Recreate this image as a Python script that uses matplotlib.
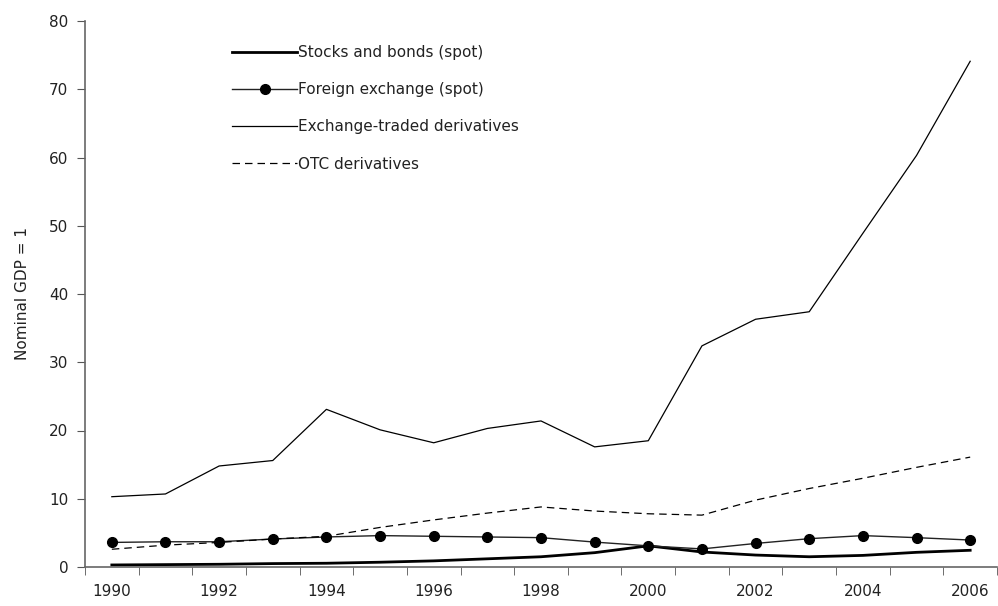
import matplotlib
matplotlib.use("Agg")
import matplotlib.pyplot as plt
import numpy as np

years = list(range(1990, 2007))
stocks_bonds = [0.3, 0.35, 0.4, 0.5, 0.55, 0.7, 0.9, 1.2, 1.5, 2.1, 3.1, 2.2, 1.75, 1.5, 1.7, 2.15, 2.45]
fx_spot = [3.6, 3.7, 3.7, 4.1, 4.4, 4.6, 4.5, 4.4, 4.3, 3.65, 3.1, 2.65, 3.45, 4.15, 4.6, 4.3, 3.95]
exch_deriv = [10.3, 10.7, 14.8, 15.6, 23.1, 20.1, 18.2, 20.3, 21.4, 17.6, 18.5, 32.4, 36.3, 37.4, 48.9, 60.3, 74.1]
otc_deriv = [2.6, 3.2, 3.6, 4.1, 4.5, 5.8, 6.9, 7.9, 8.8, 8.2, 7.8, 7.6, 9.8, 11.5, 13.0, 14.6, 16.1]

labels = ["Stocks and bonds (spot)", "Foreign exchange (spot)",
          "Exchange-traded derivatives", "OTC derivatives"]

fig = plt.figure(figsize=(9.98, 6.06), dpi=100)
ax = fig.add_axes([85/998, 39/606, 912/998, 546/606])

x = np.arange(len(years))
ax.plot(x, stocks_bonds, color="black", lw=2.0, label=labels[0])
ax.plot(x, fx_spot, color="#222222", lw=1.0, marker="o", markersize=7,
        markerfacecolor="black", markeredgecolor="black", label=labels[1])
ax.plot(x, exch_deriv, color="black", lw=0.9, label=labels[2])
ax.plot(x, otc_deriv, color="black", lw=0.9, ls=(0, (6, 4)), label=labels[3])

ax.set_xlim(-0.5, len(years) - 0.5)
ax.set_ylim(0, 80)
ax.set_yticks(range(0, 81, 10))

ax.set_xticks(x[::2])
ax.set_xticklabels([str(y) for y in years[::2]])
ax.set_xticks(np.arange(-0.5, len(years), 1), minor=True)
ax.tick_params(axis="x", which="major", length=0, pad=12, labelsize=11, labelcolor="#222222")
ax.tick_params(axis="x", which="minor", length=6, direction="out", color="#555555")
ax.tick_params(axis="y", length=6, direction="out", color="#555555", labelsize=11, pad=6,
               labelcolor="#222222")

for s in ["top", "right"]:
    ax.spines[s].set_visible(False)
for s in ["left", "bottom"]:
    ax.spines[s].set_color("#666666")
    ax.spines[s].set_linewidth(1.2)

ax.set_ylabel("Nominal GDP = 1", fontsize=11, labelpad=14, color="#222222")

leg = ax.legend(loc="upper left", bbox_to_anchor=(0.155, 0.967), frameon=False,
                fontsize=11, handlelength=4.2, handletextpad=0.1, labelspacing=1.45,
                borderaxespad=0)
for t in leg.get_texts():
    t.set_color("#222222")

fig.savefig("out.png", dpi=100)
